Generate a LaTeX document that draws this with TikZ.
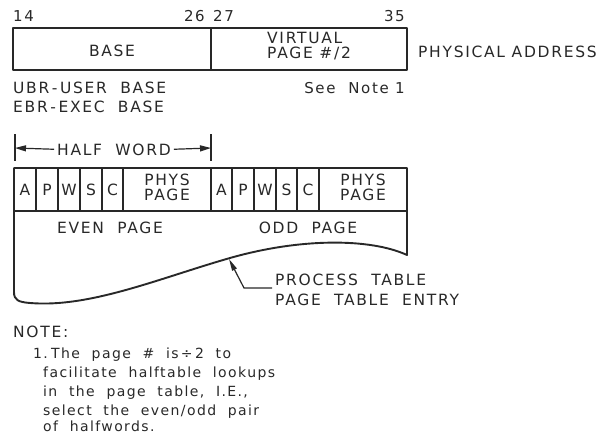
\documentclass[tikz,border=0pt]{standalone}
\usepackage{fontspec}
\setmainfont{DejaVu Sans}[LetterSpace=11]
\newfontfamily\notefont{DejaVu Sans}[LetterSpace=10]
\usetikzlibrary{arrows.meta}
\definecolor{ink}{RGB}{40,40,40}
\begin{document}
\begin{tikzpicture}[x=1pt,y=-1pt,
  lbl/.style={font=\fontsize{15.5}{18}\selectfont, text=ink, inner sep=0pt},
  numlbl/.style={font=\fontsize{15}{18}\selectfont, text=ink, inner sep=0pt},
  notelbl/.style={font=\notefont\fontsize{14}{19}\selectfont, text=ink, inner sep=0pt, anchor=base west},
  outer/.style={draw=ink, line width=1.9pt, line join=round},
  divider/.style={draw=ink, line width=1.2pt},
  hwarrow/.style={draw=ink, line width=1.2pt, -{Triangle[length=11pt,width=6pt]}, shorten <=3pt},
  leader/.style={draw=ink, line width=1.2pt, -{Triangle[length=12pt,width=5pt]}}]
\useasboundingbox (0,0) rectangle (597,434);

% ---- physical address box
\draw[outer] (13,28) rectangle (407,70);
\draw[divider] (211,28) -- (211,70);
\node[numlbl, anchor=base west] (n14) at (13,21) {14};
\node[numlbl, anchor=base east] (n26) at (205,21) {26};
\node[numlbl, anchor=base west] (n27) at (213,21) {27};
\node[numlbl, anchor=base east] (n35) at (405,21) {35};
\node[lbl, anchor=base] (base) at (112,56) {BASE};
\node[lbl, anchor=base west] (virt) at (267,43.5) {VIRTUAL};
\node[lbl, anchor=base west] (vpage) at (267,58.5) {PAGE \#/2};
\node[lbl, anchor=base west] (phys) at (418,57) {PHYSICAL ADDRESS};
\node[lbl, anchor=base west] (ubr) at (13,93) {UBR\,-\,USER\ \ BASE};
\node[lbl, anchor=base west] (ebr) at (13,112) {EBR\,-\,EXEC\ \ BASE};
\node[numlbl, anchor=base east] (see) at (405,93) {See\ \ Note 1};

% ---- half word
\draw[divider] (15,134) -- (15,161);
\draw[divider] (211,134) -- (211,161);
\coordinate (hwl) at (15,148);
\coordinate (hwr) at (211,148);
\node[lbl, anchor=base] (hw) at (114,155) {HALF\ \ WORD};
\draw[hwarrow] (hw.west) -- (hwl);
\draw[hwarrow] (hw.east) -- (hwr);

% ---- page table entry
\draw[outer] (14,168) -- (407,168) -- (407,255)
  .. controls (370,238) and (300,238) .. (230,258)
  .. controls (160,278) and (90,308) .. (30,303)
  .. controls (18,302) and (14,300) .. (14,292) -- cycle;
\draw[divider] (14,211) -- (407,211);
\foreach \x in {36,58,80,102,123,211,232,254,276,297,319}
  \draw[divider] (\x,168) -- (\x,211);
\foreach \x/\t/\n in {25/A/ea,47/P/ep,69/W/ew,91/S/es,112.5/C/ec,
                      221.5/A/oa,243/P/op,265/W/ow,286.5/S/os,308/C/oc}
  \node[lbl, anchor=base] (\n) at (\x,195) {\t};
\node[lbl, anchor=base] (ephys) at (167,185.5) {PHYS};
\node[lbl, anchor=base] (epage) at (167,200.5) {PAGE};
\node[lbl, anchor=base] (ophys) at (363,185.5) {PHYS};
\node[lbl, anchor=base] (opage) at (363,200.5) {PAGE};
\node[lbl, anchor=base] (even) at (110,233) {EVEN\ \ PAGE};
\node[lbl, anchor=base] (odd) at (308,233) {ODD\ \ PAGE};

% ---- leader
\node[lbl, anchor=base west] (pt1) at (275,285) {PROCESS\ \ TABLE};
\node[lbl, anchor=base west] (pt2) at (275,305) {PAGE\ \ TABLE\ \ ENTRY};
\coordinate (tip) at (229,259);
\coordinate (bend) at (244,288);
\draw[leader] ([xshift=-3pt]pt1.west |- bend) -- (bend) -- (tip);

% ---- note
\node[lbl, anchor=base west] (note) at (13,337) {NOTE:};
\node[notelbl] (num1) at (33,358) {1.};
\node[notelbl] (l1) at (51,358) {The\ \ page\ \ \# \ is\,÷\,2\ \ to};
\node[notelbl] (l2) at (43,377) {facilitate\ \ halftable\ \ lookups};
\node[notelbl] (l3) at (43,396) {in\ \ the\ \ page\ \ table,\ \ I.E.,};
\node[notelbl] (l4) at (43,415) {select\ \ the\ \ even/odd\ \ pair};
\node[notelbl] (l5) at (43,431) {of\ \ halfwords.};
\end{tikzpicture}
\end{document}
